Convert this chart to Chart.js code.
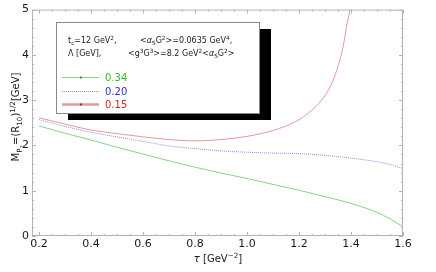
<!DOCTYPE html>
<html>
<head>
<meta charset="utf-8">
<script src="https://cdn.jsdelivr.net/npm/chart.js@4.4.0/dist/chart.umd.min.js"></script>
<style>
  html, body { margin: 0; padding: 0; background: #fff; }
  #wrap { width: 436px; height: 272px; }
</style>
</head>
<body>
<div id="wrap"><canvas id="c"></canvas></div>
<script>
// tau values (GeV^-2) for the Lambda = 0.34 and 0.20 curves
const tauGrid = [0.2, 0.3, 0.4, 0.5, 0.6, 0.7, 0.8, 0.9, 1.0, 1.1, 1.2, 1.3, 1.4, 1.5, 1.55, 1.6];
const massL034 = [2.43, 2.27, 2.12, 1.96, 1.81, 1.66, 1.52, 1.39, 1.27, 1.14, 1.01, 0.87, 0.72, 0.52, 0.38, 0.20];
const massL020 = [2.57, 2.42, 2.29, 2.19, 2.09, 1.99, 1.93, 1.88, 1.85, 1.83, 1.82, 1.78, 1.72, 1.64, 1.58, 1.49];
// Lambda = 0.15 blows up near tau ~ 1.4
const tauL015 = [0.2, 0.3, 0.4, 0.5, 0.6, 0.7, 0.8, 0.9, 1.0, 1.1, 1.15, 1.2, 1.25, 1.3, 1.33, 1.35, 1.37, 1.385, 1.396, 1.41];
const massL015 = [2.61, 2.47, 2.34, 2.26, 2.19, 2.13, 2.10, 2.13, 2.20, 2.33, 2.43, 2.57, 2.78, 3.10, 3.42, 3.75, 4.19, 4.70, 5.0, 5.7];

const xTicks = [0.2, 0.4, 0.6, 0.8, 1.0, 1.2, 1.4, 1.6];
const yTicks = [0, 1, 2, 3, 4, 5];
const legendLabels = ['0.34', '0.20', '0.15'];

const col = {
  green: '#86d486', greenText: '#2fbf2f',
  blue: '#8f8fe8', blueText: '#2f2fcf',
  red: '#e49a9a', redText: '#c42a2a',
  frame: '#b4b4b4',
  text: '#1a1a1a'
};

function pts(xs, ys) {
  return xs.map((x, i) => ({ x: x, y: ys[i] }));
}

// draw text with sub/superscripts: parts = [[text, 'n'|'sub'|'sup'|'it'], ...]
function drawRich(ctx, parts, x, y, size) {
  let cx = x;
  parts.forEach(([t, s]) => {
    let fs = size, dy = 0, style = '';
    if (s === 'sub') { fs = size * 0.72; dy = size * 0.3; }
    if (s === 'sup') { fs = size * 0.72; dy = -size * 0.4; }
    if (s === 'it') { style = 'italic '; }
    ctx.font = style + fs + 'px "DejaVu Sans"';
    ctx.fillText(t, cx, y + dy);
    cx += ctx.measureText(t).width;
  });
  return cx - x;
}

const decor = {
  id: 'decor',
  afterDraw(chart) {
    const ctx = chart.ctx;
    const a = chart.chartArea;
    const xs = chart.scales.x, ys = chart.scales.y;
    ctx.save();

    // frame + inward ticks
    ctx.strokeStyle = col.frame;
    ctx.lineWidth = 1;
    ctx.strokeRect(a.left + 0.5, a.top + 0.5, a.right - a.left - 1, a.bottom - a.top - 1);
    ctx.beginPath();
    for (let v = 0.2; v <= 1.6001; v += 0.05) {
      const px = Math.round(xs.getPixelForValue(v)) + 0.5;
      const major = Math.abs(v * 5 - Math.round(v * 5)) < 1e-6;
      const len = major ? 4 : 2;
      ctx.moveTo(px, a.bottom); ctx.lineTo(px, a.bottom - len);
      ctx.moveTo(px, a.top); ctx.lineTo(px, a.top + len);
    }
    for (let v = 0; v <= 5.0001; v += 0.2) {
      const py = Math.round(ys.getPixelForValue(v)) + 0.5;
      const major = Math.abs(v - Math.round(v)) < 1e-6;
      const len = major ? 4 : 2;
      ctx.moveTo(a.left, py); ctx.lineTo(a.left + len, py);
      ctx.moveTo(a.right, py); ctx.lineTo(a.right - len, py);
    }
    ctx.stroke();

    // legend box with shadow
    const bx = 56, by = 22, bw = 203, bh = 91;
    ctx.fillStyle = '#000';
    ctx.fillRect(bx + 12, by + 7, bw, bh);
    ctx.fillStyle = '#fff';
    ctx.fillRect(bx, by, bw, bh);
    ctx.strokeStyle = '#888';
    ctx.strokeRect(bx + 0.5, by + 0.5, bw, bh);

    ctx.fillStyle = col.text;
    ctx.textBaseline = 'alphabetic';
    ctx.textAlign = 'left';
    const fs = 8;
    drawRich(ctx, [['t', 'n'], ['c', 'sub'], ['=12 GeV', 'n'], ['2', 'sup'], [',', 'n']], 68, 43, fs);
    drawRich(ctx, [['<', 'n'], ['α', 'it'], ['S', 'sub'], ['G', 'n'], ['2', 'sup'], ['>=0.0635 GeV', 'n'], ['4', 'sup'], [',', 'n']], 140, 43, fs);
    drawRich(ctx, [['Λ [GeV],', 'n']], 68, 56, fs);
    drawRich(ctx, [['<g', 'n'], ['3', 'sup'], ['G', 'n'], ['3', 'sup'], ['>=8.2 GeV', 'n'], ['2', 'sup'], ['<', 'n'], ['α', 'it'], ['S', 'sub'], ['G', 'n'], ['2', 'sup'], ['>', 'n']], 128, 56, fs);

    const rows = [
      { y: 77, line: col.green, text: col.greenText, w: 1, dash: [], dot: '#3a9a3a' },
      { y: 91, line: col.blue, text: col.blueText, w: 1, dash: [1, 1], dot: null },
      { y: 104, line: col.red, text: col.redText, w: 2.5, dash: [], dot: '#b02020' }
    ];
    rows.forEach((r, i) => {
      ctx.strokeStyle = r.line;
      ctx.lineWidth = r.w;
      ctx.setLineDash(r.dash);
      ctx.beginPath();
      ctx.moveTo(62, r.y + 0.5); ctx.lineTo(99, r.y + 0.5);
      ctx.stroke();
      ctx.setLineDash([]);
      if (r.dot) {
        ctx.fillStyle = r.dot;
        ctx.fillRect(80, r.y - 0.5, 2, 2);
      }
      ctx.fillStyle = r.text;
      ctx.font = '10px "DejaVu Sans"';
      ctx.textBaseline = 'middle';
      ctx.fillText(legendLabels[i], 105, r.y + 1);
    });

    // axis titles
    ctx.fillStyle = col.text;
    ctx.textBaseline = 'alphabetic';
    ctx.font = '10px "DejaVu Sans"';
    // x title
    const xParts = [['τ', 'it'], [' [GeV', 'n'], ['−2', 'sup'], [']', 'n']];
    ctx.globalAlpha = 0;
    const xw = drawRich(ctx, xParts, 0, -100, 10);
    ctx.globalAlpha = 1;
    drawRich(ctx, xParts, 218 - xw / 2, 262, 10);
    // y title (rotated)
    const yParts = [['M', 'n'], ['P', 'sub'], ['2', 'sub2'], ['=(R', 'n'], ['10', 'sub'], [')', 'n'], ['1/2', 'sup'], ['[GeV]', 'n']];
    ctx.save();
    ctx.translate(19, 117);
    ctx.rotate(-Math.PI / 2);
    let w = 0;
    yParts.forEach(([t, s]) => {
      const f = (s === 'n') ? 10 : (s === 'sub2' ? 5.5 : 7.2);
      ctx.font = f + 'px "DejaVu Sans"';
      w += ctx.measureText(t).width;
    });
    let cx = -w / 2;
    yParts.forEach(([t, s]) => {
      let f = 10, dy = 0;
      if (s === 'sub') { f = 7.2; dy = 3; }
      if (s === 'sub2') { f = 5.5; dy = 5; }
      if (s === 'sup') { f = 7.2; dy = -4; }
      ctx.font = f + 'px "DejaVu Sans"';
      ctx.fillText(t, cx, dy);
      cx += ctx.measureText(t).width;
    });
    ctx.restore();

    ctx.restore();
  }
};

new Chart(document.getElementById('c'), {
  type: 'line',
  data: {
    datasets: [
      {
        label: '0.34',
        data: pts(tauGrid, massL034),
        borderColor: col.green,
        borderWidth: 1,
        pointRadius: 0,
        cubicInterpolationMode: 'monotone'
      },
      {
        label: '0.20',
        data: pts(tauGrid, massL020),
        borderColor: col.blue,
        borderWidth: 1,
        borderDash: [1, 1],
        pointRadius: 0,
        cubicInterpolationMode: 'monotone'
      },
      {
        label: '0.15',
        data: pts(tauL015, massL015),
        borderColor: col.red,
        borderWidth: 1,
        pointRadius: 0,
        cubicInterpolationMode: 'monotone'
      }
    ]
  },
  options: {
    responsive: true,
    maintainAspectRatio: false,
    animation: false,
    events: [],
    layout: { padding: { top: 6, right: 33, left: 0, bottom: 0 } },
    plugins: {
      legend: { display: false },
      tooltip: { enabled: false }
    },
    scales: {
      x: {
        type: 'linear',
        min: 0.173,
        max: 1.6,
        afterBuildTicks: (s) => { s.ticks = xTicks.map(v => ({ value: v })); },
        afterFit: (s) => { s.height = 36; },
        grid: { display: false, drawTicks: false },
        border: { display: false },
        ticks: {
          color: col.text,
          font: { family: 'DejaVu Sans', size: 11 },
          padding: 2,
          maxRotation: 0,
          autoSkip: false,
          callback: (v) => Number(v).toFixed(1)
        }
      },
      y: {
        type: 'linear',
        min: 0,
        max: 5,
        afterBuildTicks: (s) => { s.ticks = yTicks.map(v => ({ value: v })); },
        afterFit: (s) => { s.width = 32; },
        grid: { display: false, drawTicks: false },
        border: { display: false },
        ticks: {
          color: col.text,
          font: { family: 'DejaVu Sans', size: 11 },
          padding: 3
        }
      }
    }
  },
  plugins: [decor]
});
</script>
</body>
</html>
